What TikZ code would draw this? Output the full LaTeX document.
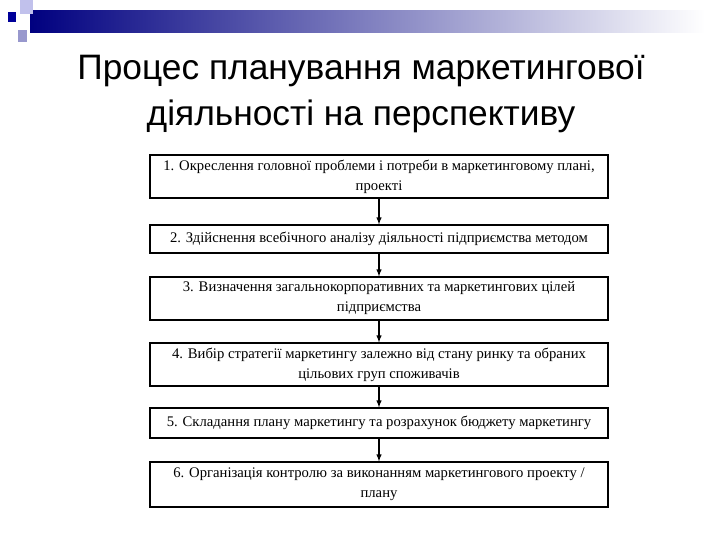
\documentclass[tikz,border=0pt]{standalone}
\usepackage{fontspec}
\setmainfont{Liberation Serif}
\newfontfamily\titlefont{Liberation Sans}
\begin{document}
\begin{tikzpicture}[x=0.75pt,y=-0.75pt,
  stepbox/.style={draw,line width=0.9pt,minimum width=458*0.75pt,align=center,inner sep=0pt,font=\fontsize{11}{15}\selectfont},
  arr/.style={-latex,line width=0.8pt}]
\useasboundingbox (0,0) rectangle (720,540);
\fill[white] (0,0) rectangle (720,540);
\shade[left color=blue!50!black, right color=white] (30,10) rectangle (705,32);
\fill[blue!20!white!85!gray] (20,0) rectangle (33,14);
\fill[blue!35!gray!60] (18,30) rectangle (27,42);
\fill[blue!60!black] (8,12) rectangle (16,22);
\node[font=\titlefont\fontsize{26.5}{34}\selectfont,align=center] (title) at (361,94) {Процес планування маркетингової\\діяльності на перспективу};
\node[stepbox,minimum height=43*0.75pt] (b1) at (379,176.5) {1. Окреслення головної проблеми і потреби в маркетинговому плані,\\проекті};
\node[stepbox,minimum height=28*0.75pt] (b2) at (379,239) {2. Здійснення всебічного аналізу діяльності підприємства методом};
\node[stepbox,minimum height=43*0.75pt] (b3) at (379,298.5) {3. Визначення загальнокорпоративних та маркетингових цілей\\підприємства};
\node[stepbox,minimum height=43*0.75pt] (b4) at (379,364.5) {4. Вибір стратегії маркетингу залежно від стану ринку та обраних\\цільових груп споживачів};
\node[stepbox,minimum height=30*0.75pt] (b5) at (379,423) {5. Складання плану маркетингу та розрахунок бюджету маркетингу};
\node[stepbox,minimum height=45*0.75pt] (b6) at (379,484.5) {6. Організація контролю за виконанням маркетингового проекту /\\плану};
\foreach \a/\b in {b1/b2,b2/b3,b3/b4,b4/b5,b5/b6}
  \draw[arr] (\a.south) -- (\b.north);
\end{tikzpicture}
\end{document}
